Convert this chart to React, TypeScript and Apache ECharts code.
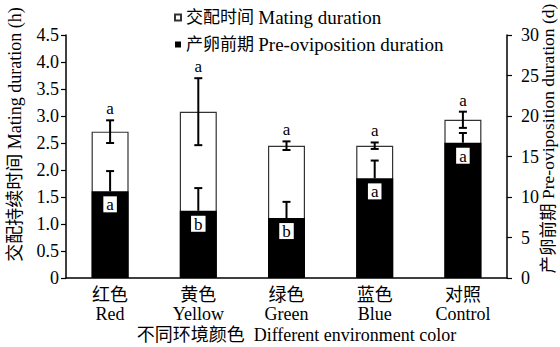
import React, { useEffect, useRef } from "react";
import * as echarts from "echarts";

const categoriesCn = ["红色", "黄色", "绿色", "蓝色", "对照"];
const categoriesEn = ["Red", "Yellow", "Green", "Blue", "Control"];
const matingValues = [2.71, 3.08, 2.45, 2.45, 2.93];
const matingErrors = [0.21, 0.62, 0.08, 0.06, 0.15];
const matingLetters = ["a", "a", "a", "a", "a"];
const preovValues = [10.7, 8.3, 7.4, 12.3, 16.7];
const preovErrors = [2.5, 2.8, 2.0, 2.2, 1.2];
const preovLetters = ["a", "b", "b", "a", "a"];
const leftTicks = { min: 0, max: 4.5, interval: 0.5 };
const rightTicks = { min: 0, max: 30, interval: 5 };

const FONT = "'Liberation Serif', 'Noto Sans CJK SC', serif";
const MATING_CN = "交配时间";
const MATING_EN = "Mating duration";
const PREOV_CN = "产卵前期";
const PREOV_EN = "Pre-oviposition duration";
const MATING = MATING_CN + " " + MATING_EN;
const PREOV = PREOV_CN + " " + PREOV_EN;

export default function App() {
  const ref = useRef<HTMLDivElement>(null);
  useEffect(() => {
    document.body.style.margin = "0";
    if (!ref.current) return;
    const chart = echarts.init(ref.current, null, { renderer: "svg" });
    const cats = categoriesCn.map((c, i) => c + "\n" + categoriesEn[i]);

    const errRender = (letters: string[] | null, both: boolean) => (params: any, api: any) => {
      const idx = api.value(0);
      const v = api.value(1);
      const e = api.value(2);
      const top = api.coord([idx, v + e]);
      const bot = api.coord([idx, both ? v - e : v]);
      const x = top[0];
      const cw = 4;
      const style = { stroke: "#000", lineWidth: 2 };
      const children: any[] = [
        { type: "line", shape: { x1: x, y1: top[1], x2: x, y2: bot[1] }, style },
        { type: "line", shape: { x1: x - cw, y1: top[1], x2: x + cw, y2: top[1] }, style },
      ];
      if (both) {
        children.push({ type: "line", shape: { x1: x - cw, y1: bot[1], x2: x + cw, y2: bot[1] }, style });
      }
      if (letters) {
        children.push({
          type: "text",
          x: x,
          y: top[1] - 3,
          style: {
            text: letters[params.dataIndex],
            fill: "#000",
            font: "17px " + FONT,
            textAlign: "center",
            textVerticalAlign: "bottom",
          },
        });
      }
      return { type: "group", children };
    };

    const legendMap: Record<string, string> = {
      [MATING]: "{cn|" + MATING_CN + "} {en|" + MATING_EN + "}",
      [PREOV]: "{cn|" + PREOV_CN + "} {en|" + PREOV_EN + "}",
    };

    chart.setOption({
      animation: false,
      textStyle: { fontFamily: FONT, color: "#000" },
      grid: { left: 66, right: 53, top: 35, bottom: 69, containLabel: false, outerBoundsMode: "none" },
      legend: {
        orient: "vertical",
        left: 169,
        top: 3,
        itemWidth: 6,
        itemHeight: 6,
        itemGap: 8,
        icon: "rect",
        formatter: (n: string) => legendMap[n] || n,
        textStyle: {
          fontFamily: FONT,
          fontSize: 17,
          color: "#000",
          rich: {
            cn: { fontSize: 17, fontFamily: FONT, color: "#000" },
            en: { fontSize: 19, fontFamily: FONT, color: "#000" },
          },
        },
        data: [MATING, PREOV],
      },
      xAxis: {
        type: "category",
        data: cats,
        axisLine: { lineStyle: { color: "#000", width: 1.5 } },
        axisTick: { inside: true, length: 6, lineStyle: { color: "#000", width: 1.2 } },
        axisLabel: { color: "#000", fontSize: 18, lineHeight: 19, margin: 7, fontFamily: FONT },
        name: "不同环境颜色  Different environment color",
        nameLocation: "middle",
        nameGap: 48,
        nameMoveOverlap: false,
        nameTextStyle: { color: "#000", fontSize: 18, fontFamily: FONT, padding: [0, 0, 0, 20] },
      },
      yAxis: [
        {
          type: "value",
          min: leftTicks.min,
          max: leftTicks.max,
          interval: leftTicks.interval,
          splitLine: { show: false },
          axisLine: { show: true, lineStyle: { color: "#000", width: 1.5 } },
          axisTick: { show: true, length: 5, lineStyle: { color: "#000", width: 1.2 } },
          axisLabel: {
            color: "#000",
            fontSize: 18,
            margin: 7,
            fontFamily: FONT,
            formatter: (v: number) => (v === 0 ? "0" : v.toFixed(1)),
          },
          name: "交配持续时间 Mating duration (h)",
          nameLocation: "middle",
          nameGap: 42,
          nameMoveOverlap: false,
          nameTextStyle: { color: "#000", fontSize: 18, fontFamily: FONT, padding: [0, 0, 0, 44] },
        },
        {
          type: "value",
          min: rightTicks.min,
          max: rightTicks.max,
          interval: rightTicks.interval,
          position: "right",
          splitLine: { show: false },
          axisLine: { show: true, lineStyle: { color: "#000", width: 1.5 } },
          axisTick: { show: true, length: 5, lineStyle: { color: "#000", width: 1.2 } },
          axisLabel: { color: "#000", fontSize: 18, margin: 14, fontFamily: FONT },
          name: "产卵前期 Pre-oviposition duration (d)",
          nameLocation: "middle",
          nameGap: 32,
          nameMoveOverlap: false,
          nameTextStyle: { color: "#000", fontSize: 17.5, fontFamily: FONT, padding: [0, 0, 0, 36] },
        },
      ],
      series: [
        {
          name: MATING,
          type: "bar",
          yAxisIndex: 0,
          barWidth: 37,
          barGap: "-100%",
          data: matingValues,
          itemStyle: { color: "#fff", borderColor: "#333", borderWidth: 1.2 },
          z: 2,
        },
        {
          name: PREOV,
          type: "bar",
          yAxisIndex: 1,
          barWidth: 37,
          barGap: "-100%",
          data: preovValues.map((v, i) => ({
            value: v,
            label: {
              show: true,
              position: "insideTop",
              distance: 5,
              formatter: preovLetters[i],
              backgroundColor: "#fff",
              color: "#000",
              fontSize: 17,
              fontFamily: FONT,
              lineHeight: 15,
              padding: [1, 3, 0, 3],
            },
          })),
          itemStyle: { color: "#000" },
          z: 3,
        },
        {
          type: "custom",
          yAxisIndex: 0,
          data: matingValues.map((v, i) => [i, v, matingErrors[i]]),
          encode: { x: 0, y: 1 },
          renderItem: errRender(matingLetters, true),
          z: 5,
        },
        {
          type: "custom",
          yAxisIndex: 1,
          data: preovValues.map((v, i) => [i, v, preovErrors[i]]),
          encode: { x: 0, y: 1 },
          renderItem: errRender(null, false),
          z: 5,
        },
      ],
    });
    return () => chart.dispose();
  }, []);
  return <div ref={ref} style={{ width: 560, height: 347 }} />;
}
